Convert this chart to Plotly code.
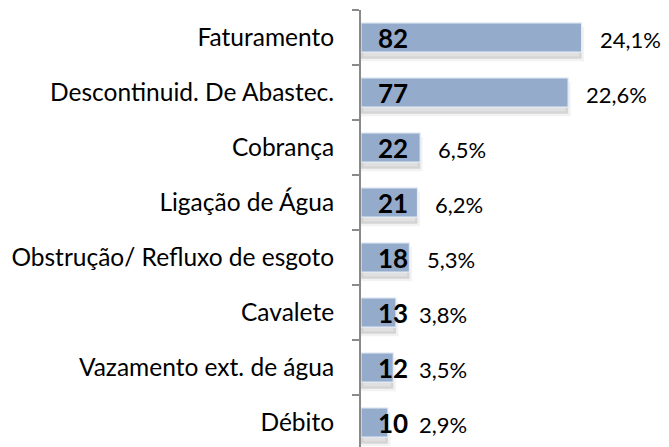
import plotly.graph_objects as go

categories = ["Faturamento", "Descontinuid. De Abastec.", "Cobrança", "Ligação de Água",
              "Obstrução/ Refluxo de esgoto", "Cavalete", "Vazamento ext. de água", "Débito"]
counts = [82, 77, 22, 21, 18, 13, 12, 10]
percent_labels = ["24,1%", "22,6%", "6,5%", "6,2%", "5,3%", "3,8%", "3,5%", "2,9%"]

FONT = "Lato"
BAR_W = 0.53

fig = go.Figure()
# soft drop shadow
fig.add_trace(go.Bar(
    y=categories, x=counts, orientation="h",
    width=BAR_W, offset=-BAR_W / 2 + 0.12,
    marker=dict(color="rgba(0,0,0,0.12)", line=dict(color="rgba(0,0,0,0.05)", width=5)),
    hoverinfo="skip", showlegend=False,
))
fig.add_trace(go.Bar(
    y=categories, x=counts, orientation="h",
    width=BAR_W, offset=-BAR_W / 2,
    marker=dict(color="#94abcb", line=dict(color="#e4ecf6", width=1.2)),
    showlegend=False,
))

annotations = []
for cat, v, p in zip(categories, counts, percent_labels):
    annotations.append(dict(
        x=0, y=cat, xref="x", yref="y", text=f"<b>{v}</b>",
        xanchor="left", yanchor="middle", xshift=15, showarrow=False,
        font=dict(family=FONT, size=26, color="black"),
    ))
    annotations.append(dict(
        x=max(v, 15), y=cat, xref="x", yref="y", text=p,
        xanchor="left", yanchor="middle", xshift=16, yshift=-2, showarrow=False,
        font=dict(family=FONT, size=22, color="black"),
    ))

fig.update_layout(
    width=669, height=447,
    margin=dict(l=361, r=0, t=10, b=0),
    paper_bgcolor="white", plot_bgcolor="white",
    barmode="overlay",
    annotations=annotations,
    font=dict(family=FONT, size=24, color="black"),
    xaxis=dict(range=[0, 114.5], visible=False, showgrid=False, zeroline=False),
    yaxis=dict(
        categoryorder="array", categoryarray=categories,
        range=[7.445, -0.5],
        showline=True, linecolor="#8a8a8a", linewidth=2,
        ticks="outside", ticklen=7, tickcolor="#8a8a8a", tickwidth=1.5,
        tickson="boundaries", ticklabelstandoff=20,
        showgrid=False, zeroline=False,
        tickfont=dict(family=FONT, size=24.5, color="black"),
    ),
)

fig.write_html("out.html", config={"displayModeBar": False},
               post_script="document.body.style.margin='0';document.body.style.overflow='hidden';")
